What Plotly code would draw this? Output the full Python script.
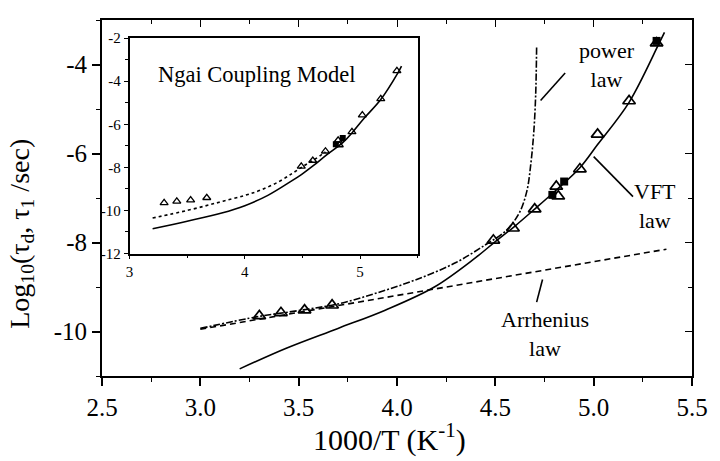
import plotly.graph_objects as go

# ---------------- data ----------------
# measured relaxation times (open triangles)
tri_x = [3.30, 3.41, 3.53, 3.67, 4.49, 4.59, 4.70, 4.81, 4.82, 4.93, 5.02, 5.18, 5.32]
tri_y = [-9.65, -9.58, -9.52, -9.41, -7.95, -7.68, -7.25, -6.74, -6.96, -6.35, -5.57, -4.82, -3.52]
# filled squares
sq_x = [4.79, 4.85, 5.32]
sq_y = [-6.93, -6.63, -3.47]

# VFT law (solid)
vft_x = [3.20, 3.44, 3.70, 3.94, 4.19, 4.40, 4.50, 4.60, 4.70, 4.80, 4.93, 5.02, 5.18, 5.33, 5.36]
vft_y = [-10.84, -10.37, -9.93, -9.52, -9.00, -8.34, -7.98, -7.63, -7.25, -6.86, -6.32, -5.80, -4.85, -3.55, -3.28]

# power law (dash-dot)
pow_x = [3.00, 3.30, 3.50, 3.70, 3.90, 4.10, 4.30, 4.45, 4.55, 4.62, 4.66, 4.68, 4.695, 4.705, 4.71]
pow_y = [-9.93, -9.66, -9.53, -9.38, -9.13, -8.83, -8.45, -8.05, -7.75, -7.35, -6.85, -6.25, -5.55, -4.70, -3.60]

# Arrhenius law (dashed)
arr_x = [3.00, 5.37]
arr_y = [-9.95, -8.15]

# inset: Ngai coupling model
ngai_solid_x = [3.20, 3.50, 3.80, 4.00, 4.20, 4.40, 4.50, 4.60, 4.71, 4.85, 4.93, 5.03, 5.18, 5.33, 5.36]
ngai_solid_y = [-10.85, -10.50, -10.12, -9.78, -9.30, -8.65, -8.30, -7.90, -7.42, -6.85, -6.40, -5.75, -4.85, -3.60, -3.30]
ngai_dot_x = [3.20, 3.50, 3.77, 4.00, 4.14, 4.30, 4.42, 4.50, 4.60, 4.70]
ngai_dot_y = [-10.35, -10.00, -9.63, -9.30, -9.05, -8.65, -8.25, -7.97, -7.65, -7.28]

# ticks
main_xticks = [2.5, 3.0, 3.5, 4.0, 4.5, 5.0, 5.5]
main_xticktext = ["2.5", "3.0", "3.5", "4.0", "4.5", "5.0", "5.5"]
main_xminor = [2.75, 3.25, 3.75, 4.25, 4.75, 5.25]
main_yticks = [-10, -8, -6, -4]
main_yticktext = ["-10", "-8", "-6", "-4"]
main_yminor = [-11, -9, -7, -5, -3]
ins_xticks = [3, 4, 5]
ins_xticktext = ["3", "4", "5"]
ins_xminor = [3.5, 4.5, 5.5]
ins_yticks = [-12, -10, -8, -6, -4, -2]
ins_yticktext = ["-12", "-10", "-8", "-6", "-4", "-2"]
ins_yminor = [-11, -9, -7, -5, -3]

FONT = "Liberation Serif, Times New Roman, Times, serif"
BLACK = "black"

fig = go.Figure()

# ---------------- main plot ----------------
fig.add_trace(go.Scatter(x=arr_x, y=arr_y, mode="lines",
                         line=dict(color=BLACK, width=1.6, dash="6px,4px"),
                         showlegend=False))
fig.add_trace(go.Scatter(x=pow_x, y=pow_y, mode="lines", line_shape="spline",
                         line=dict(color=BLACK, width=1.6, dash="7px,2px,2px,2px"),
                         showlegend=False))
fig.add_trace(go.Scatter(x=vft_x, y=vft_y, mode="lines", line_shape="spline",
                         line=dict(color=BLACK, width=1.6), showlegend=False))
fig.add_trace(go.Scatter(x=tri_x, y=tri_y, mode="markers",
                         marker=dict(symbol="triangle-up-open", size=11, color=BLACK,
                                     line=dict(width=1.7, color=BLACK)),
                         showlegend=False))
fig.add_trace(go.Scatter(x=sq_x, y=sq_y, mode="markers",
                         marker=dict(symbol="square", size=8, color=BLACK),
                         showlegend=False))

# ---------------- inset ----------------
fig.add_trace(go.Scatter(x=ngai_dot_x, y=ngai_dot_y, mode="lines", line_shape="spline",
                         line=dict(color=BLACK, width=1.6, dash="dot"),
                         xaxis="x2", yaxis="y2", showlegend=False))
fig.add_trace(go.Scatter(x=ngai_solid_x, y=ngai_solid_y, mode="lines", line_shape="spline",
                         line=dict(color=BLACK, width=1.6),
                         xaxis="x2", yaxis="y2", showlegend=False))
fig.add_trace(go.Scatter(x=tri_x, y=tri_y, mode="markers",
                         marker=dict(symbol="triangle-up-open", size=7, color=BLACK,
                                     line=dict(width=1.3, color=BLACK)),
                         xaxis="x2", yaxis="y2", showlegend=False))
fig.add_trace(go.Scatter(x=sq_x[:2], y=sq_y[:2], mode="markers",
                         marker=dict(symbol="square", size=6, color=BLACK),
                         xaxis="x2", yaxis="y2", showlegend=False))

# overlay subplot for inward mirror ticks on main top/right
fig.add_trace(go.Scatter(x=[None], y=[None], xaxis="x3", yaxis="y3",
                         mode="markers", showlegend=False, hoverinfo="skip"))

tickfont = dict(family=FONT, size=25, color=BLACK)
insfont = dict(family=FONT, size=15, color=BLACK)

fig.update_layout(
    width=720, height=461,
    margin=dict(l=102, r=18, t=15, b=85),
    paper_bgcolor="white", plot_bgcolor="white",
    font=dict(family=FONT, color=BLACK),
    xaxis=dict(range=[2.5, 5.5], domain=[0, 1], anchor="y",
               showgrid=False, zeroline=False,
               showline=True, linecolor=BLACK, linewidth=2, mirror=True,
               ticks="outside", ticklen=8, tickwidth=1.5, tickcolor=BLACK,
               tickmode="array", tickvals=main_xticks, ticktext=main_xticktext,
               minor=dict(tickvals=main_xminor, ticks="outside", ticklen=4,
                          tickwidth=1.2, tickcolor=BLACK),
               tickfont=tickfont),
    yaxis=dict(range=[-11, -3], domain=[0, 1], anchor="x",
               showgrid=False, zeroline=False,
               showline=True, linecolor=BLACK, linewidth=2, mirror=True,
               ticks="outside", ticklen=8, tickwidth=1.5, tickcolor=BLACK,
               tickmode="array", tickvals=main_yticks, ticktext=main_yticktext,
               minor=dict(tickvals=main_yminor, ticks="outside", ticklen=4,
                          tickwidth=1.2, tickcolor=BLACK),
               tickfont=tickfont),
    xaxis3=dict(range=[2.5, 5.5], overlaying="x", side="top", anchor="y",
                showgrid=False, zeroline=False, showline=False,
                ticks="inside", ticklen=7, tickwidth=1.3, tickcolor=BLACK,
                tickmode="array", tickvals=main_xticks, showticklabels=False,
                minor=dict(tickvals=main_xminor, ticks="inside", ticklen=4,
                           tickwidth=1.1, tickcolor=BLACK)),
    yaxis3=dict(range=[-11, -3], overlaying="y", side="right", anchor="x",
                showgrid=False, zeroline=False, showline=False,
                ticks="inside", ticklen=7, tickwidth=1.3, tickcolor=BLACK,
                tickmode="array", tickvals=main_yticks, showticklabels=False,
                minor=dict(tickvals=main_yminor, ticks="inside", ticklen=4,
                           tickwidth=1.1, tickcolor=BLACK)),
    xaxis2=dict(range=[3, 5.5], domain=[0.0467, 0.535], anchor="y2",
                showgrid=False, zeroline=False,
                showline=True, linecolor=BLACK, linewidth=1.8, mirror=True,
                ticks="outside", ticklen=4, tickwidth=1.3, tickcolor=BLACK,
                tickmode="array", tickvals=ins_xticks, ticktext=ins_xticktext,
                minor=dict(tickvals=ins_xminor, ticks="outside", ticklen=3,
                           tickwidth=1, tickcolor=BLACK),
                tickfont=insfont),
    yaxis2=dict(range=[-12, -2], domain=[0.344, 0.949], anchor="x2",
                showgrid=False, zeroline=False,
                showline=True, linecolor=BLACK, linewidth=1.8, mirror=True,
                ticks="outside", ticklen=4, tickwidth=1.3, tickcolor=BLACK,
                tickmode="array", tickvals=ins_yticks, ticktext=ins_yticktext,
                minor=dict(tickvals=ins_yminor, ticks="outside", ticklen=3,
                           tickwidth=1, tickcolor=BLACK),
                tickfont=insfont),
)

# axis titles
fig.add_annotation(text="1000/T (K<sup>-1</sup>)", xref="paper", yref="paper",
                   x=0.488, y=-0.172, showarrow=False,
                   font=dict(family=FONT, size=30, color=BLACK),
                   xanchor="center", yanchor="middle")
fig.add_annotation(text="Log<sub>10</sub>(τ<sub>d</sub>, τ<sub>1</sub> /sec)",
                   xref="paper", yref="paper", x=-0.137, y=0.40, showarrow=False,
                   textangle=-90, font=dict(family=FONT, size=28, color=BLACK),
                   xanchor="center", yanchor="middle")

# inset title
fig.add_annotation(text="Ngai Coupling Model", xref="paper", yref="paper",
                   x=0.262, y=0.848, showarrow=False,
                   font=dict(family=FONT, size=22.5, color=BLACK),
                   xanchor="center", yanchor="middle")

# curve labels
lab = dict(family=FONT, size=22, color=BLACK)
fig.add_annotation(text="power<br>law", x=5.07, y=-4.0, xref="x", yref="y",
                   showarrow=False, font=lab, align="center")
fig.add_annotation(text="VFT<br>law", x=5.31, y=-7.19, xref="x", yref="y",
                   showarrow=False, font=lab, align="center")
fig.add_annotation(text="Arrhenius<br>law", x=4.75, y=-10.05, xref="x", yref="y",
                   showarrow=False, font=lab, align="center")

# pointer lines
for (x0, y0, x1, y1) in [(4.73, -4.81, 4.855, -4.19),
                         (5.00, -6.07, 5.20, -6.97),
                         (4.74, -8.83, 4.71, -9.34)]:
    fig.add_shape(type="line", x0=x0, y0=y0, x1=x1, y1=y1, xref="x", yref="y",
                  line=dict(color=BLACK, width=1.6))

fig.write_html("out.html")
